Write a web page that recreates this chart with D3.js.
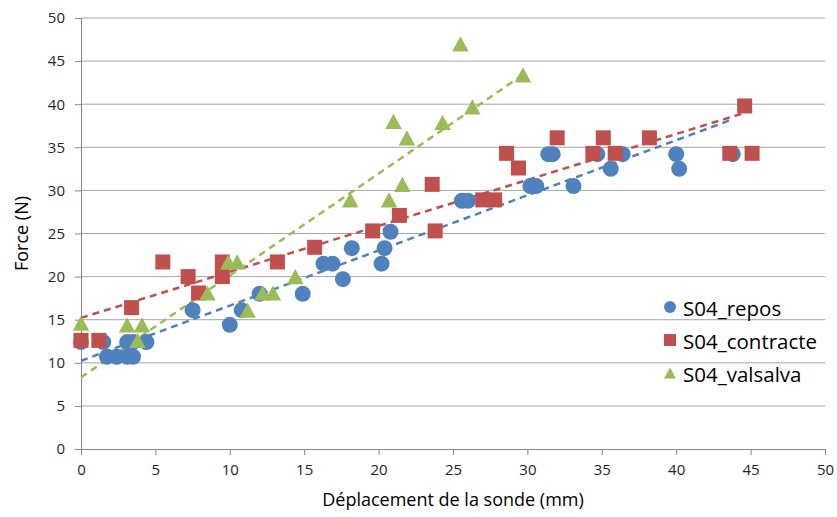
<!DOCTYPE html>
<html>
<head>
<meta charset="utf-8">
<script src="https://cdn.jsdelivr.net/npm/d3@7"></script>
<style>
  html, body { margin: 0; padding: 0; background: #fff; }
  svg { display: block; }
</style>
</head>
<body>
<svg id="chart" width="837" height="517"></svg>
<script>
// ── Data ────────────────────────────────────────────────────────────────────
const seriesNames = ['S04_repos', 'S04_contracte', 'S04_valsalva'];

const reposX = [0, 1.5, 1.75, 2.4, 3.1, 3.5, 3.1, 3.5, 4.4, 7.5, 10.0, 10.8, 12.0, 14.9,
  16.3, 16.9, 17.6, 18.2, 20.2, 20.4, 20.8, 25.6, 26.0, 30.2, 30.6, 31.4, 31.7, 33.1,
  34.7, 35.6, 36.4, 40.0, 40.2, 43.8];
const reposY = [12.4, 12.4, 10.7, 10.7, 10.7, 10.7, 12.4, 12.4, 12.4, 16.1, 14.4, 16.1, 18.0, 18.0,
  21.5, 21.5, 19.7, 23.3, 21.5, 23.3, 25.2, 28.8, 28.8, 30.5, 30.5, 34.2, 34.2, 30.5,
  34.2, 32.5, 34.2, 34.2, 32.5, 34.2];

const contracteX = [0, 1.2, 3.4, 5.5, 7.2, 7.9, 9.5, 9.5, 13.2, 15.7, 19.6, 21.4, 23.6, 23.8,
  27.0, 27.8, 28.6, 29.4, 32.0, 34.4, 35.1, 35.9, 38.2, 43.6, 44.6, 45.1];
const contracteY = [12.6, 12.6, 16.4, 21.7, 20.0, 18.1, 21.7, 20.0, 21.7, 23.4, 25.3, 27.1, 30.7, 25.3,
  28.9, 28.9, 34.3, 32.6, 36.1, 34.3, 36.1, 34.3, 36.1, 34.3, 39.8, 34.3];

const valsalvaX = [0, 3.1, 4.1, 3.8, 8.5, 9.9, 10.5, 11.2, 12.2, 12.9, 14.4, 18.1, 20.7, 21.0,
  21.6, 21.9, 24.3, 25.5, 26.3, 29.7];
const valsalvaY = [14.6, 14.4, 14.4, 12.6, 18.1, 21.7, 21.7, 16.1, 18.1, 18.1, 20.0, 28.9, 28.9, 38.0,
  30.7, 36.1, 37.9, 47.0, 39.7, 43.4];

const xTicks = d3.range(0, 55, 5);
const yTicks = d3.range(0, 55, 5);
const colors = ['#4F81BD', '#C0504D', '#9BBB59'];
const shapes = ['circle', 'square', 'triangle'];

const series = [
  { name: seriesNames[0], xs: reposX, ys: reposY },
  { name: seriesNames[1], xs: contracteX, ys: contracteY },
  { name: seriesNames[2], xs: valsalvaX, ys: valsalvaY }
];

// ── Layout ──────────────────────────────────────────────────────────────────
const font = '"Open Sans", "Noto Sans", sans-serif';
const svg = d3.select('#chart').style('font-family', font);

const x = d3.scaleLinear().domain([0, 50]).range([81, 825]);
const y = d3.scaleLinear().domain([0, 50]).range([449, 18]);

// ── Grid ────────────────────────────────────────────────────────────────────
svg.append('g')
  .selectAll('line')
  .data(yTicks.filter(d => d > 0))
  .join('line')
  .attr('x1', x(0)).attr('x2', x(50))
  .attr('y1', d => y(d)).attr('y2', d => y(d))
  .attr('stroke', '#a6a6a6')
  .attr('stroke-width', 1);

// ── Axes ────────────────────────────────────────────────────────────────────
const xAxis = svg.append('g')
  .attr('transform', `translate(0,${y(0)})`)
  .call(d3.axisBottom(x).tickValues(xTicks).tickSize(6).tickPadding(9));
const yAxis = svg.append('g')
  .attr('transform', `translate(${x(0)},0)`)
  .call(d3.axisLeft(y).tickValues(yTicks).tickSize(6).tickPadding(10));

for (const ax of [xAxis, yAxis]) {
  ax.select('.domain').attr('stroke', '#868686');
  ax.selectAll('.tick line').attr('stroke', '#868686');
  ax.selectAll('.tick text')
    .attr('fill', '#262626')
    .attr('font-size', '15px')
    .attr('font-family', font);
}

// ── Trend lines (least squares, like the spreadsheet) ───────────────────────
const dash = svg.append('g');
series.forEach((s, i) => {
  const n = s.xs.length;
  const mx = d3.mean(s.xs), my = d3.mean(s.ys);
  let sxy = 0, sxx = 0;
  for (let k = 0; k < n; k++) {
    sxy += (s.xs[k] - mx) * (s.ys[k] - my);
    sxx += (s.xs[k] - mx) ** 2;
  }
  const b = sxy / sxx;
  const a = my - b * mx;
  const x0 = d3.min(s.xs), x1 = d3.max(s.xs);
  dash.append('line')
    .attr('x1', x(x0)).attr('y1', y(a + b * x0))
    .attr('x2', x(x1)).attr('y2', y(a + b * x1))
    .attr('stroke', colors[i])
    .attr('stroke-width', 2.5)
    .attr('stroke-dasharray', '7,5');
});

// ── Markers ─────────────────────────────────────────────────────────────────
function drawMarker(g, shape, cx, cy, color, size) {
  if (shape === 'circle') {
    g.append('circle').attr('cx', cx).attr('cy', cy).attr('r', size / 2).attr('fill', color);
  } else if (shape === 'square') {
    g.append('rect').attr('x', cx - size / 2).attr('y', cy - size / 2)
      .attr('width', size).attr('height', size).attr('fill', color);
  } else {
    const h = size * 0.92;
    g.append('path')
      .attr('d', `M${cx},${cy - h / 2}L${cx + size / 2},${cy + h / 2}L${cx - size / 2},${cy + h / 2}Z`)
      .attr('fill', color);
  }
}

const markSizes = [16, 15, 16.5];
const marks = svg.append('g');
series.forEach((s, i) => {
  const g = marks.append('g');
  s.xs.forEach((xv, k) => drawMarker(g, shapes[i], x(xv), y(s.ys[k]), colors[i], markSizes[i]));
});

// ── Axis titles ─────────────────────────────────────────────────────────────
svg.append('text')
  .attr('x', 453).attr('y', 506)
  .attr('text-anchor', 'middle')
  .attr('font-size', '18px')
  .attr('fill', '#000')
  .text('Déplacement de la sonde (mm)');

svg.append('text')
  .attr('transform', `translate(28,${y(25)}) rotate(-90)`)
  .attr('text-anchor', 'middle')
  .attr('font-size', '18px')
  .attr('fill', '#000')
  .text('Force (N)');

// ── Legend ──────────────────────────────────────────────────────────────────
const legend = svg.append('g');
series.forEach((s, i) => {
  const ly = 307 + i * 33;
  drawMarker(legend, shapes[i], 670, ly, colors[i], 12);
  legend.append('text')
    .attr('x', 683).attr('y', ly + 1)
    .attr('dominant-baseline', 'central')
    .attr('font-size', '20.5px')
    .attr('fill', '#000')
    .text(s.name);
});
</script>
</body>
</html>
